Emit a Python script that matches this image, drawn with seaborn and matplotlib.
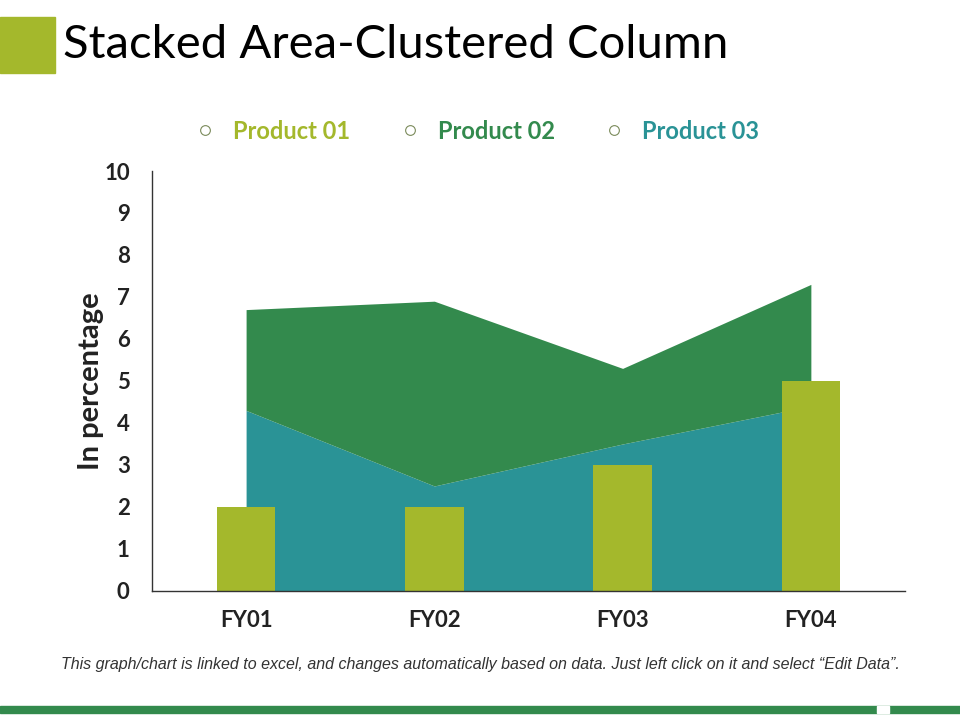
import matplotlib
matplotlib.use('Agg')
import matplotlib.pyplot as plt
from matplotlib.lines import Line2D
from matplotlib.patches import Rectangle
import numpy as np
import pandas as pd
import seaborn as sns

years = ['FY01', 'FY02', 'FY03', 'FY04']
product_01 = [2, 2, 3, 5]          # columns
product_02 = [2.4, 4.4, 1.8, 2.9]  # stacked area, top layer
product_03 = [4.3, 2.5, 3.5, 4.4]  # stacked area, bottom layer
y_ticks = list(range(0, 11))

c_p1 = '#A4B82C'
c_p2 = '#338A4D'
c_p3 = '#2A9396'

sns.set_theme(style='white')
plt.rcParams['font.family'] = ['Lato', 'DejaVu Sans']

df = pd.DataFrame({'Year': years, 'Product 01': product_01})

fig = plt.figure(figsize=(9.6, 7.2), dpi=100)
ax = fig.add_axes([0.1583, 0.1792, 0.7844, 0.5833])

x = np.arange(len(years))
ax.stackplot(x, product_03, product_02, colors=[c_p3, c_p2], linewidth=0, zorder=1)
sns.barplot(data=df, x='Year', y='Product 01', color=c_p1, width=0.31,
            saturation=1, linewidth=0, ax=ax, zorder=2)

ax.set_xlim(-0.5, 3.5)
ax.set_ylim(0, 10)
ax.set_yticks(y_ticks)
ax.set_xlabel('')
ax.set_ylabel('In percentage', fontsize=21, fontweight='bold', color='#222222', labelpad=0)
ax.tick_params(axis='both', length=0, labelsize=16, colors='#222222')
ax.tick_params(axis='x', pad=14)
ax.tick_params(axis='y', pad=16)
for lab in ax.get_xticklabels() + ax.get_yticklabels():
    lab.set_fontweight('bold')
for s in ['top', 'right']:
    ax.spines[s].set_visible(False)
for s in ['left', 'bottom']:
    ax.spines[s].set_color('#333333')
    ax.spines[s].set_linewidth(1.0)

handles = [Line2D([], [], marker='o', linestyle='none', markersize=7,
                  markerfacecolor='none', markeredgecolor='#7a8a5a', markeredgewidth=0.8)
           for _ in range(3)]
leg = fig.legend(handles, ['Product 01', 'Product 02', 'Product 03'], ncol=3,
                 loc='center', bbox_to_anchor=(0.49, 0.818), frameon=False,
                 labelcolor=[c_p1, c_p2, c_p3], columnspacing=1.5, handletextpad=0.2,
                 prop={'size': 17, 'weight': 'bold'})

# title block
fig.patches.append(Rectangle((0, 1 - 73 / 720), 55 / 960, 56 / 720,
                             transform=fig.transFigure, color=c_p1, zorder=0))
fig.text(63 / 960, 1 - 45 / 720, 'Stacked Area-Clustered Column', fontsize=34,
         fontweight='normal', color='#000000', va='center', ha='left')

fig.text(0.5, 1 - 664 / 720,
         'This graph/chart is linked to excel, and changes automatically based on data. '
         'Just left click on it and select \u201cEdit Data\u201d.',
         ha='center', va='center', fontsize=11.5, style='italic', color='#333333',
         family=['Liberation Sans Narrow', 'Liberation Sans', 'DejaVu Sans'])

# bottom band
fig.patches.append(Rectangle((0, 1 - 713 / 720), 1, 7 / 720,
                             transform=fig.transFigure, color=c_p2, zorder=0))
fig.patches.append(Rectangle((877 / 960, 1 - 713 / 720), 12 / 960, 7 / 720,
                             transform=fig.transFigure, color='white', zorder=1))

fig.savefig('out.png', dpi=100)
